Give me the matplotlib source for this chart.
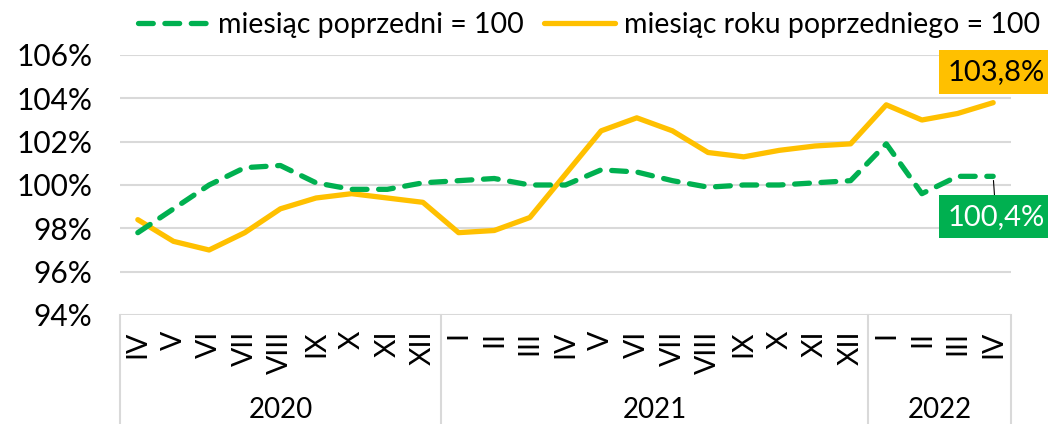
import matplotlib
matplotlib.use('Agg')
import matplotlib.pyplot as plt
from matplotlib.lines import Line2D
import matplotlib.transforms as mtransforms

plt.rcParams['font.family'] = ['Lato', 'DejaVu Sans']

# Data
months = ['IV', 'V', 'VI', 'VII', 'VIII', 'IX', 'X', 'XI', 'XII',
          'I', 'II', 'III', 'IV', 'V', 'VI', 'VII', 'VIII', 'IX', 'X', 'XI', 'XII',
          'I', 'II', 'III', 'IV']
years = ['2020', '2021', '2022']
year_counts = [9, 12, 4]

mom = [97.8, 98.9, 100.0, 100.8, 100.9, 100.1, 99.8, 99.8, 100.1,
       100.2, 100.3, 100.0, 100.0, 100.7, 100.6, 100.2, 99.9, 100.0, 100.0, 100.1, 100.2,
       101.9, 99.6, 100.4, 100.4]
yoy = [98.4, 97.4, 97.0, 97.8, 98.9, 99.4, 99.6, 99.4, 99.2,
       97.8, 97.9, 98.5, 100.5, 102.5, 103.1, 102.5, 101.5, 101.3, 101.6, 101.8, 101.9,
       103.7, 103.0, 103.3, 103.8]

green = '#00B050'
yellow = '#FFC000'
grid_c = '#D9D9D9'

fig = plt.figure(figsize=(10.48, 4.24), dpi=100)
W, H = 1048, 424
ax = fig.add_axes([120 / W, (H - 315) / H, 891 / W, 260 / H])

x = list(range(len(months)))
ax.plot(x, yoy, color=yellow, lw=3.8, solid_capstyle='round', solid_joinstyle='round', zorder=3)
ax.plot(x, mom, color=green, lw=3.8, dashes=(2.8, 2.2), dash_capstyle='round', zorder=4)

ax.set_xlim(-0.5, len(months) - 0.5)
ax.set_ylim(94, 106)
ax.set_yticks(range(94, 107, 2))
ax.set_yticklabels([f'{v}%' for v in range(94, 107, 2)], fontsize=21.5)
ax.tick_params(axis='y', length=0, pad=20)
ax.set_xticks([])
for s in ax.spines.values():
    s.set_visible(False)
for v in range(94, 107, 2):
    ax.axhline(v, color=grid_c, lw=1.5, zorder=1)

# category axis: months, years and separators
trans = mtransforms.blended_transform_factory(ax.transData, ax.transAxes)
bottom = -(H - 315) / 260
for i, m in enumerate(months):
    ax.text(i, -0.06, m, transform=trans, rotation=90, ha='center', va='top', fontsize=20.5)
start = 0
seps = [-0.5]
for yr, n in zip(years, year_counts):
    ax.text(start + (n - 1) / 2, -0.365, yr, transform=trans, ha='center', va='center', fontsize=20)
    start += n
    seps.append(start - 0.5)
for sx in seps:
    ax.plot([sx, sx], [0, bottom], transform=trans, color=grid_c, lw=1.5, clip_on=False)

# value labels for the last month
ax.annotate(f'{yoy[-1]:.1f}%'.replace('.', ','), xy=(x[-1], yoy[-1]), xytext=(2, 22),
            textcoords='offset points', ha='center', va='center', fontsize=21, color='black',
            bbox=dict(boxstyle='square,pad=0.3', fc=yellow, ec='none'), zorder=5)
ax.annotate(f'{mom[-1]:.1f}%'.replace('.', ','), xy=(x[-1], mom[-1]), xytext=(2, -29),
            textcoords='offset points', ha='center', va='center', fontsize=21, color='white',
            bbox=dict(boxstyle='square,pad=0.3', fc=green, ec='none'),
            arrowprops=dict(arrowstyle='-', color='black', lw=0.8, shrinkA=0, shrinkB=3), zorder=5)

handles = [Line2D([], [], color=green, lw=3.8, dashes=(2.8, 2.2), dash_capstyle='round'),
           Line2D([], [], color=yellow, lw=3.8, solid_capstyle='round')]
fig.legend(handles, ['miesiąc poprzedni = 100', 'miesiąc roku poprzedniego = 100'],
           loc='center', bbox_to_anchor=(589 / W, 1 - 25 / H), ncol=2, frameon=False,
           fontsize=20.5, handlelength=2.5, handletextpad=0.3, columnspacing=0.7,
           borderpad=0, borderaxespad=0)

fig.savefig('out.png', dpi=100)
